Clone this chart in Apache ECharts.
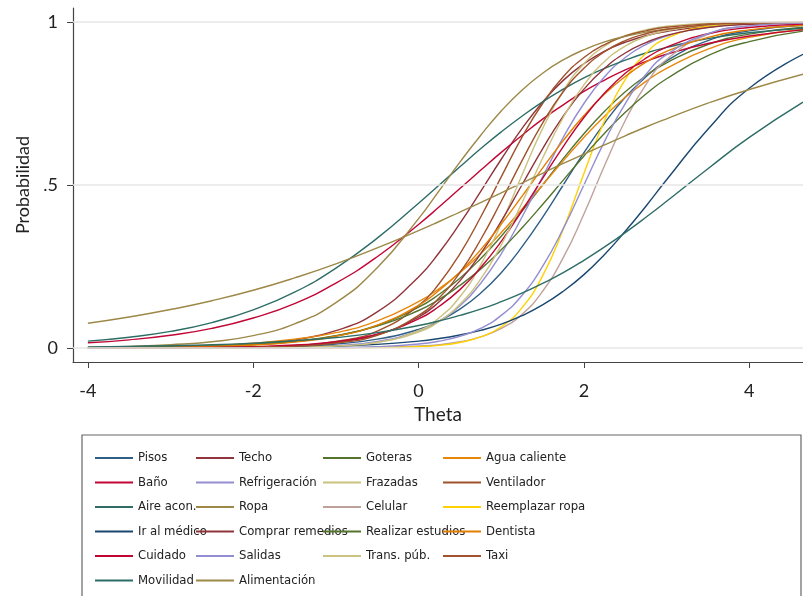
<!DOCTYPE html>
<html>
<head>
<meta charset="utf-8">
<script src="https://cdn.jsdelivr.net/npm/echarts@6.0.0/dist/echarts.min.js"></script>
<style>
  html, body { margin: 0; padding: 0; background: #fff; }
  #chart { width: 803px; height: 596px; }
</style>
</head>
<body>
<div id="chart"></div>
<script>
const theta = [-4, -3.5, -3, -2.5, -2, -1.5, -1, -0.5, 0, 0.25, 0.5, 0.75, 1, 1.25, 1.5, 1.75, 2, 2.25, 2.5, 2.75, 3, 3.5, 4, 4.65];

const xTicks = [-4, -2, 0, 2, 4];
const yTicks = [0, 0.5, 1];
const yTickLabels = ['0', '.5', '1'];

// probability of each item, one value per theta
const pisos = [.000, .000, .001, .001, .002, .005, .012, .027, .057, .083, .119, .168, .231, .310, .401, .500, .599, .690, .769, .832, .881, .943, .973, .990];
const techo = [.000, .001, .002, .005, .011, .025, .053, .111, .218, .293, .382, .480, .579, .673, .754, .821, .872, .911, .938, .958, .971, .987, .994, .998];
const goteras = [.001, .002, .003, .005, .010, .020, .037, .069, .125, .165, .214, .274, .343, .419, .500, .581, .657, .726, .786, .835, .875, .931, .963, .984];
const aguaCaliente = [.001, .002, .005, .008, .015, .027, .047, .083, .142, .182, .231, .289, .354, .426, .500, .574, .646, .711, .769, .818, .858, .917, .953, .978];
const bano = [.016, .025, .039, .060, .092, .136, .199, .280, .379, .433, .489, .545, .600, .652, .702, .746, .787, .822, .853, .879, .901, .934, .957, .976];
const refrigeracion = [.000, .000, .000, .000, .001, .003, .007, .020, .052, .083, .130, .198, .289, .401, .525, .646, .750, .832, .891, .931, .957, .984, .994, .998];
const frazadas = [.000, .000, .000, .000, .000, .002, .005, .017, .053, .093, .157, .254, .382, .530, .673, .789, .872, .926, .958, .976, .987, .996, .999, 1.000];
const ventilador = [.000, .000, .000, .001, .003, .007, .020, .052, .130, .198, .289, .401, .525, .646, .750, .832, .891, .931, .957, .973, .984, .994, .998, .999];
const aireAcon = [.021, .033, .051, .078, .117, .171, .245, .337, .444, .500, .556, .611, .663, .711, .755, .794, .829, .858, .883, .905, .922, .949, .967, .981];
const ropa = [.002, .005, .010, .019, .038, .074, .139, .246, .397, .483, .570, .652, .727, .791, .843, .884, .915, .939, .956, .969, .978, .989, .994, .998];
const celular = [.000, .000, .000, .000, .000, .000, .001, .002, .006, .010, .019, .034, .060, .103, .174, .277, .411, .560, .698, .808, .885, .962, .988, .998];
const reemplazarRopa = [.000, .000, .000, .000, .000, .000, .000, .001, .004, .008, .017, .034, .065, .123, .221, .364, .535, .698, .823, .904, .950, .987, .997, .999];
const irAlMedico = [.000, .000, .000, .001, .002, .003, .006, .011, .021, .029, .040, .054, .073, .099, .132, .174, .225, .287, .358, .435, .516, .671, .797, .901];
const comprarRemedios = [.000, .000, .000, .001, .003, .007, .017, .041, .095, .142, .206, .289, .389, .500, .611, .711, .794, .858, .905, .937, .959, .983, .993, .998];
const realizarEstudios = [.001, .002, .004, .006, .012, .021, .038, .067, .115, .149, .192, .242, .301, .368, .440, .515, .589, .659, .723, .779, .826, .897, .940, .972];
const dentista = [.001, .001, .002, .005, .009, .018, .036, .070, .131, .177, .233, .301, .380, .465, .552, .636, .713, .779, .833, .877, .910, .953, .976, .990];
const cuidado = [.000, .000, .001, .002, .004, .009, .019, .042, .089, .128, .179, .246, .327, .421, .520, .618, .707, .782, .843, .889, .923, .964, .983, .994];
const salidas = [.000, .000, .000, .000, .000, .000, .001, .004, .012, .021, .036, .060, .100, .161, .250, .366, .500, .634, .750, .839, .900, .964, .988, .997];
const transPub = [.000, .000, .000, .000, .001, .002, .006, .017, .049, .082, .134, .211, .316, .445, .582, .707, .807, .879, .926, .956, .974, .991, .997, .999];
const taxi = [.000, .000, .000, .001, .002, .005, .015, .039, .100, .154, .231, .332, .450, .574, .690, .786, .858, .909, .943, .964, .978, .992, .997, .999];
const movilidad = [.003, .005, .007, .010, .015, .022, .032, .047, .069, .083, .100, .119, .142, .168, .198, .231, .269, .310, .354, .401, .450, .550, .646, .754];
const alimentacion = [.076, .095, .118, .145, .177, .215, .258, .307, .360, .388, .417, .446, .476, .506, .536, .566, .595, .623, .651, .678, .703, .751, .793, .840];

const itemNames = ['Pisos', 'Techo', 'Goteras', 'Agua caliente', 'Baño', 'Refrigeración', 'Frazadas', 'Ventilador',
    'Aire acon.', 'Ropa', 'Celular', 'Reemplazar ropa', 'Ir al médico', 'Comprar remedios', 'Realizar estudios', 'Dentista',
    'Cuidado', 'Salidas', 'Trans. púb.', 'Taxi', 'Movilidad', 'Alimentación'];
const itemValues = [pisos, techo, goteras, aguaCaliente, bano, refrigeracion, frazadas, ventilador,
    aireAcon, ropa, celular, reemplazarRopa, irAlMedico, comprarRemedios, realizarEstudios, dentista,
    cuidado, salidas, transPub, taxi, movilidad, alimentacion];

// stata s2color-like palette
const palette = {
    'Pisos': '#2f5f86', 'Techo': '#90353b', 'Goteras': '#55752f', 'Agua caliente': '#e8870e',
    'Baño': '#c10534', 'Refrigeración': '#938dd2', 'Frazadas': '#cac27e', 'Ventilador': '#a0522d',
    'Aire acon.': '#2d6d66', 'Ropa': '#9c8847', 'Celular': '#bfa19c', 'Reemplazar ropa': '#ffd200',
    'Ir al médico': '#1a476f', 'Comprar remedios': '#90353b', 'Realizar estudios': '#55752f', 'Dentista': '#e37e00',
    'Cuidado': '#c10534', 'Salidas': '#938dd2', 'Trans. púb.': '#cac27e', 'Taxi': '#a0522d',
    'Movilidad': '#2d6d66', 'Alimentación': '#9c8847'
};

const chart = echarts.init(document.getElementById('chart'));

const series = itemNames.map((name, i) => ({
    name: name,
    type: 'line',
    smooth: 0.5,
    showSymbol: false,
    symbol: 'none',
    data: theta.map((t, j) => [t, itemValues[i][j]]),
    lineStyle: { width: 1.4, color: palette[name] },
    itemStyle: { color: palette[name] },
    z: 3
}));

// light horizontal grid lines at the y ticks
series.unshift({
    name: 'grid',
    type: 'line',
    data: [],
    silent: true,
    z: 1,
    markLine: {
        silent: true,
        symbol: ['none', 'none'],
        label: { show: false },
        lineStyle: { color: '#e6e6e6', width: 1.5, type: 'solid' },
        data: yTicks.map(v => ({ yAxis: v }))
    }
});

// legend laid out in 4 columns, row by row like the original
const legendCols = [[], [], [], []];
itemNames.forEach((n, i) => legendCols[i % 4].push(n));
const colLeft = [95, 196, 323, 443];

const legendFont = "'DejaVu Sans Condensed', 'Liberation Sans Narrow', Roboto, sans-serif";

const option = {
    animation: false,
    backgroundColor: '#fff',
    grid: { left: 73, right: 0, top: 8, bottom: 234 },
    xAxis: {
        type: 'value',
        min: -4.18,
        max: 4.65,
        name: 'Theta',
        nameLocation: 'middle',
        nameGap: 37,
        nameTextStyle: { fontSize: 19, color: '#222', fontFamily: 'Lato' },
        axisLine: { onZero: false, lineStyle: { color: '#444', width: 1.2 } },
        axisTick: { length: 6, lineStyle: { color: '#444' }, customValues: xTicks },
        axisLabel: { customValues: xTicks, margin: 20, fontSize: 18, color: '#222', fontFamily: 'Lato' },
        splitLine: { show: false }
    },
    yAxis: {
        type: 'value',
        min: -0.043,
        max: 1.043,
        name: 'Probabilidad',
        nameLocation: 'middle',
        nameGap: 38,
        nameTextStyle: { fontSize: 18, color: '#222', fontFamily: 'Lato' },
        axisLine: { onZero: false, lineStyle: { color: '#444', width: 1.2 } },
        axisTick: { length: 6, lineStyle: { color: '#444' }, customValues: yTicks },
        axisLabel: {
            customValues: yTicks,
            margin: 15,
            fontSize: 18,
            color: '#222',
            fontFamily: 'Lato',
            formatter: v => yTickLabels[yTicks.indexOf(v)]
        },
        splitLine: { show: false }
    },
    legend: legendCols.map((names, c) => ({
        data: names,
        orient: 'vertical',
        left: colLeft[c],
        top: 450,
        padding: 0,
        itemGap: 8.5,
        itemWidth: 38,
        itemHeight: 2,
        icon: 'rect',
        selectedMode: false,
        textStyle: { fontSize: 13, lineHeight: 16, color: '#222', fontFamily: legendFont }
    })),
    graphic: [{
        type: 'rect',
        shape: { x: 82, y: 435, width: 719, height: 200 },
        style: { fill: 'none', stroke: '#666', lineWidth: 1.2 },
        silent: true
    }],
    series: series
};

chart.setOption(option);
</script>
</body>
</html>
